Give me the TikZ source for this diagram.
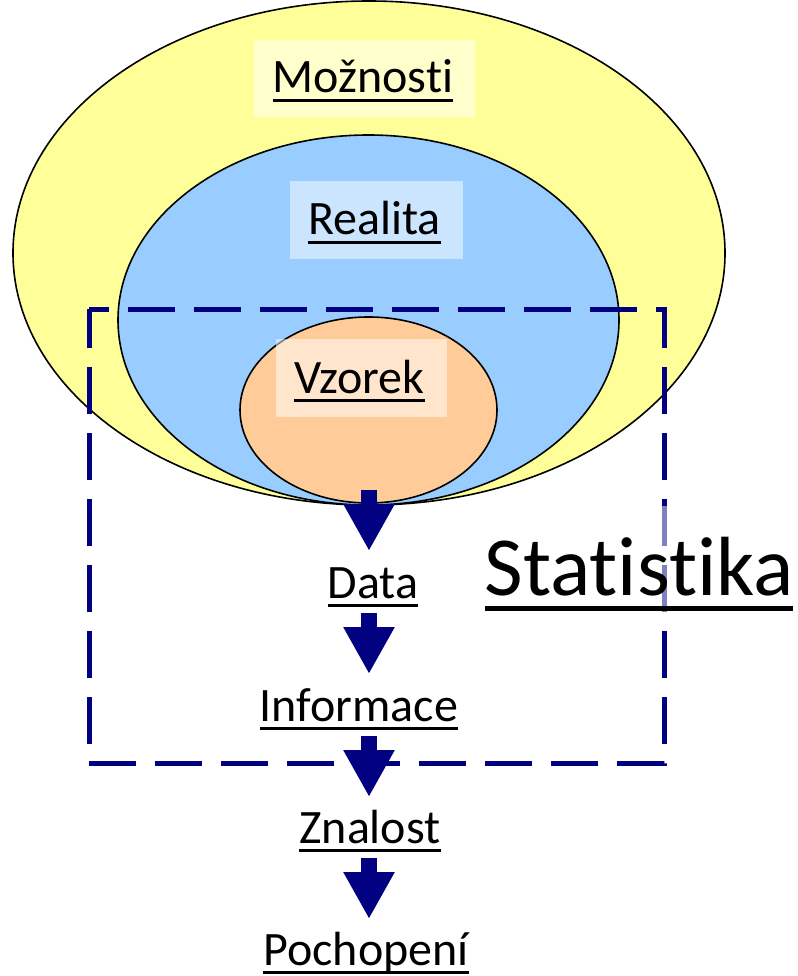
\documentclass[tikz,border=0pt]{standalone}
\usepackage{fontspec}
\setmainfont{Carlito}[Ligatures={NoCommon,NoContextual}]
\usetikzlibrary{arrows.meta}
\definecolor{ovyellow}{HTML}{FFFF99}
\definecolor{ovblue}{HTML}{99CCFF}
\definecolor{ovorange}{HTML}{FFCC99}
\definecolor{ovnavy}{HTML}{000080}
\newcommand{\myul}[1]{\setbox0\hbox{#1}\rlap{\rule[-0.19em]{\wd0}{0.06em}}\box0}
\tikzset{
  ovals/.style={draw=black, line width=1.6pt},
  labelbg/.style={fill=white, fill opacity=0.5},
  lbl/.style={anchor=base, inner sep=0pt, font=\fontsize{48}{56}\selectfont},
  biglbl/.style={anchor=base, inner sep=0pt, font=\fontsize{84}{96}\selectfont},
  blockarrow/.style={draw=ovnavy, line width=16pt, -{Triangle[width=48pt,length=47pt]}},
  frame/.style={draw=ovnavy, line width=5pt, dash pattern=on 47pt off 19pt, dash phase=27pt}
}
\begin{document}
\begin{tikzpicture}[x=1pt,y=-1pt]
\useasboundingbox (0,0) rectangle (797,976);
% ellipses
\draw[ovals, fill=ovyellow] (369,253) ellipse [x radius=356, y radius=252];
\draw[ovals, fill=ovblue] (368.5,320) ellipse [x radius=250.5, y radius=185];
\draw[ovals, fill=ovorange] (368.5,410) ellipse [x radius=128.5, y radius=93];
% label backgrounds
\fill[labelbg] (254,40) rectangle (475,117);
\fill[labelbg] (290,181) rectangle (463,259);
\fill[labelbg] (276,339) rectangle (447,417);
% labels
\node[lbl] (moz) at (363,93) {\myul{Možnosti}};
\node[lbl] (real) at (374.5,235) {\myul{Realita}};
\node[lbl] (vz) at (359.5,393) {\myul{Vzorek}};
\node[lbl] (data) at (373,598) {\myul{Data}};
\node[lbl] (info) at (359,721) {\myul{Informace}};
\node[lbl] (zn) at (370,843) {\myul{Znalost}};
\node[lbl] (poch) at (366,965) {\myul{Pochopení}};
% dashed frame
\draw[frame] (89,309) -- (664,309) -- (664,763) -- (89,763) -- cycle;
% Statistika
\fill[labelbg] (485,506) rectangle (797,615);
\node[biglbl] (stat) at (639,595) {\myul{Statistika}};
% arrows
\coordinate (a1s) at (369,490); \coordinate (a1e) at (369,551);
\coordinate (a2s) at (369,613); \coordinate (a2e) at (369,674);
\coordinate (a3s) at (369,736); \coordinate (a3e) at (369,797);
\coordinate (a4s) at (369,858); \coordinate (a4e) at (369,919);
\draw[blockarrow] (a1s) -- (a1e);
\draw[blockarrow] (a2s) -- (a2e);
\draw[blockarrow] (a3s) -- (a3e);
\draw[blockarrow] (a4s) -- (a4e);
\end{tikzpicture}
\end{document}
